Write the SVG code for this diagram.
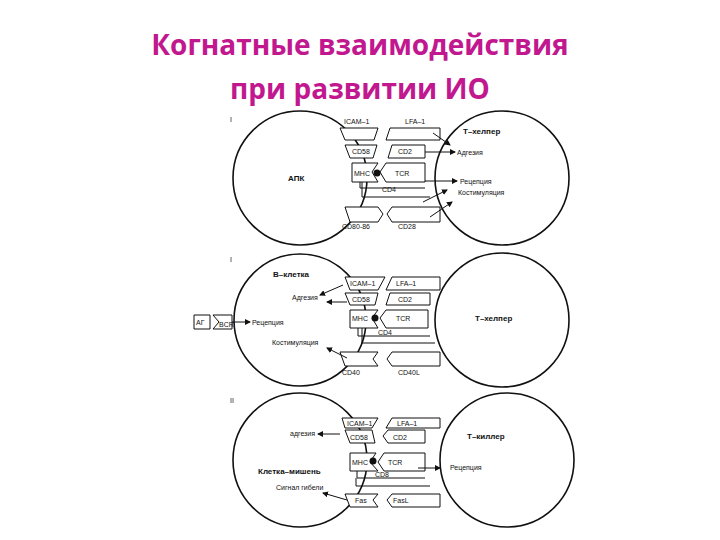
<svg xmlns="http://www.w3.org/2000/svg" width="720" height="540" viewBox="0 0 720 540">
<style>
.t{font-family:"Liberation Sans",Arial,sans-serif;font-size:7px;fill:#111}
.b{font-weight:bold;font-size:8px}
.h{font-family:"Open Sans","Liberation Sans",sans-serif;font-size:28px;font-weight:bold;fill:#c1188f;text-anchor:middle}
.c{fill:#fff;stroke:#111;stroke-width:1.6}
.r{fill:#fff;stroke:#111;stroke-width:1}
.l{fill:none;stroke:#111;stroke-width:1}
.a{fill:none;stroke:#111;stroke-width:1;marker-end:url(#m)}
</style>
<defs><marker id="m" markerWidth="6" markerHeight="6" refX="5" refY="3" orient="auto"><path d="M0,0L6,3L0,6z" fill="#111"/></marker></defs>
<text class="h" x="360" y="55">Когнатные взаимодействия</text>
<text class="h" x="360" y="99">при развитии ИО</text>

<g id="panel1">
<text class="t" x="230" y="122">I</text>
<g id="apk"><circle class="c" cx="300" cy="178" r="67"/><text class="t b" x="288" y="181">АПК</text></g>
<g id="th1"><circle class="c" cx="502" cy="178" r="67"/><text class="t b" x="463" y="134">Т–хелпер</text>
<text class="t" x="457" y="155">Адгезия</text><text class="t" x="460" y="184">Рецепция</text><text class="t" x="458" y="195">Костимуляция</text></g>
<g id="connectors1">
<path class="r" d="M340,128H378L374,140H345Z"/><path class="r" d="M390,128H440V140H386Z"/>
<path class="r" d="M345,145H377L373,158H350Z"/><path class="r" d="M392,145H425V158H388Z"/>
<path class="r" d="M352,163H378L372,172L378,182H352Z"/><path class="r" d="M386,163H425V182H386L380,172Z"/>
<path class="l" d="M360,182V188H425M362,182V197H430"/>
<path class="r" d="M345,207H378L383,214L378,222H350Z"/><path class="r" d="M392,207H440V222H392L387,214Z"/>
<circle cx="377" cy="173" r="3.5" fill="#111"/>
<path class="a" d="M433,133L450,145"/><path class="a" d="M425,152H455"/><path class="a" d="M425,181H457"/><path class="a" d="M423,202L447,190"/><path class="a" d="M430,217L452,202"/>
</g>
<g id="labels1"><text class="t" x="344" y="124">ICAM–1</text><text class="t" x="405" y="124">LFA–1</text>
<text class="t" x="352" y="154">CD58</text><text class="t" x="398" y="154">CD2</text>
<text class="t" x="354" y="176">МНС</text><text class="t" x="395" y="176">TCR</text><text class="t" x="382" y="192">CD4</text>
<text class="t" x="342" y="229">CD80-86</text><text class="t" x="398" y="229">CD28</text></g>
</g>

<g id="panel2">
<text class="t" x="230" y="262">I</text>
<g id="bcell"><circle class="c" cx="300" cy="320" r="66"/><text class="t b" x="273" y="277">В–клетка</text>
<text class="t" x="292" y="300">Адгезия</text><text class="t" x="252" y="325">Рецепция</text><text class="t" x="272" y="345">Костимуляция</text></g>
<g id="th2"><circle class="c" cx="502" cy="320" r="67"/><text class="t b" x="475" y="321">Т–хелпер</text></g>
<g id="connectors2">
<path class="r" d="M345,277H385L378,290H350Z"/><path class="r" d="M392,277H440V290H386Z"/>
<path class="r" d="M345,293H378L375,305H350Z"/><path class="r" d="M390,293H430V305H386Z"/>
<path class="r" d="M350,310H378L372,318L378,328H350Z"/><path class="r" d="M386,310H428V328H386L380,318Z"/>
<path class="l" d="M358,328V336H430M362,328V343H435"/>
<path class="r" d="M340,352H378L373,359L378,366H345Z"/><path class="r" d="M392,352H440V366H392L387,359Z"/>
<circle cx="375" cy="318" r="3.5" fill="#111"/>
<path class="r" d="M194,315H210V329H194Z"/><path class="r" d="M213,315H232V329H213L219,322Z"/>
<path class="a" d="M343,285L320,295"/><path class="a" d="M347,302H327"/><path class="a" d="M232,322H250"/><path class="a" d="M347,358L327,348"/>
</g>
<g id="labels2"><text class="t" x="350" y="286">ICAM–1</text><text class="t" x="396" y="286">LFA–1</text>
<text class="t" x="352" y="302">CD58</text><text class="t" x="398" y="302">CD2</text>
<text class="t" x="352" y="321">МНС</text><text class="t" x="396" y="321">TCR</text><text class="t" x="378" y="335">CD4</text>
<text class="t" x="342" y="375">CD40</text><text class="t" x="398" y="375">CD40L</text>
<text class="t" x="196" y="325" font-size="6">АГ</text><text class="t" x="219" y="327" font-size="6">BCR</text></g>
</g>

<g id="panel3">
<text class="t" x="230" y="403">II</text>
<g id="target"><circle class="c" cx="300" cy="460" r="67"/><text class="t" x="290" y="436" font-size="6">адгезия</text>
<text class="t b" x="258" y="474">Клетка–мишень</text><text class="t" x="276" y="490">Сигнал гибели</text></g>
<g id="tk"><circle class="c" cx="507" cy="460" r="67"/><text class="t b" x="467" y="439">Т–киллер</text><text class="t" x="450" y="470">Рецепция</text></g>
<g id="connectors3">
<path class="r" d="M342,418H378L372,428H345Z"/><path class="r" d="M392,418H440V428H386Z"/>
<path class="r" d="M345,430H372L375,443H350Z"/><path class="r" d="M388,430H425V443H388L383,436Z"/>
<path class="r" d="M350,453H376L370,462L378,471H350Z"/><path class="r" d="M384,453H425V471H384L378,462Z"/>
<path class="l" d="M357,471V478H425M356,478V486H430"/>
<path class="r" d="M345,494H378L373,500L378,507H350Z"/><path class="r" d="M392,494H440V507H392L387,500Z"/>
<circle cx="373" cy="461" r="3.5" fill="#111"/>
<path class="a" d="M340,434H318"/><path class="a" d="M418,468H440"/><path class="a" d="M347,500L323,493"/>
</g>
<g id="labels3"><text class="t" x="347" y="426">ICAM–1</text><text class="t" x="397" y="426">LFA–1</text>
<text class="t" x="350" y="440">CD58</text><text class="t" x="393" y="440">CD2</text>
<text class="t" x="352" y="465">МНС</text><text class="t" x="388" y="465">TCR</text><text class="t" x="375" y="477">CD8</text>
<text class="t" x="355" y="503">Fas</text><text class="t" x="393" y="503">FasL</text></g>
</g>
</svg>
